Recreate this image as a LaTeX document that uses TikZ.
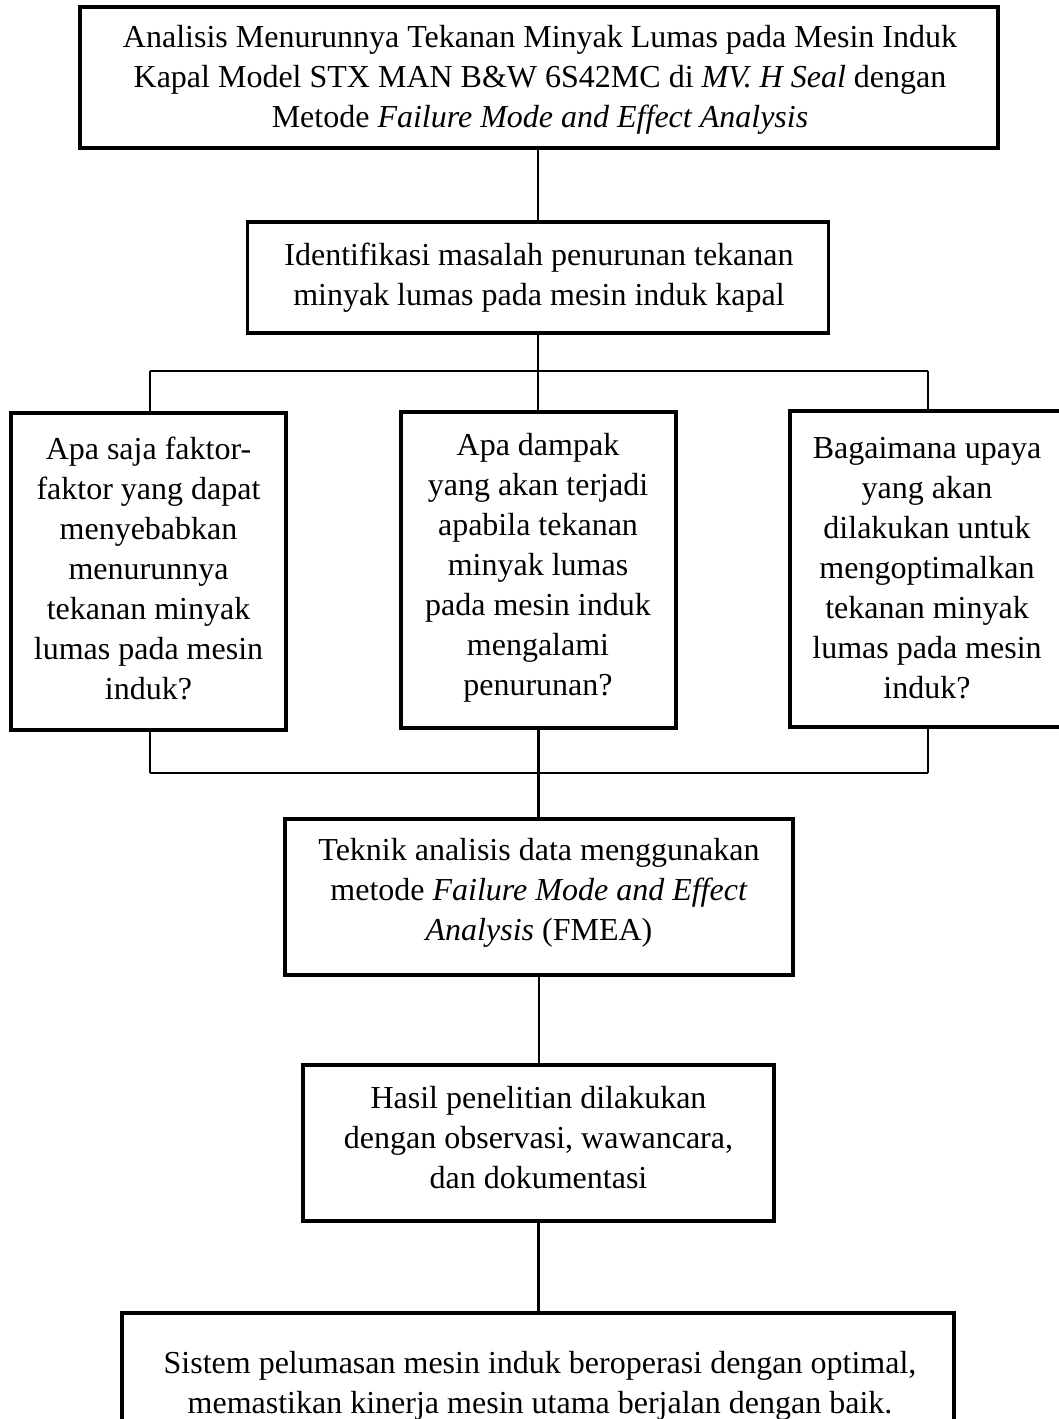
\documentclass[tikz,border=0pt]{standalone}
\usepackage{fontspec}
\setmainfont{Liberation Serif}
\begin{document}
\begin{tikzpicture}[x=1pt,y=-1pt,
  box/.style={draw,line width=3.3pt,inner sep=0pt},
  txt/.style={align=center,inner sep=0pt,font=\fontsize{32}{40}\selectfont},
  conn/.style={line width=2.3pt}]
\useasboundingbox (0,0) rectangle (1059,1419);
\clip (0,0) rectangle (1059,1419);
% boxes
\node[box,minimum width=918pt,minimum height=141pt] (b1) at (539,77.5) {};
\node[box,minimum width=581pt,minimum height=111pt] (b2) at (538,277.5) {};
\node[box,minimum width=275pt,minimum height=317pt] (bL) at (148.5,571.5) {};
\node[box,minimum width=275pt,minimum height=316pt] (bM) at (538.5,570) {};
\node[box,minimum width=276pt,minimum height=316pt] (bR) at (928,569) {};
\node[box,minimum width=508pt,minimum height=156pt] (b4) at (539,897) {};
\node[box,minimum width=471pt,minimum height=156pt] (b5) at (538.5,1143) {};
\node[box,minimum width=832pt,minimum height=146pt] (b6) at (538,1386) {};
% texts
\node[txt] (t1) at (540,80) {Analisis Menurunnya Tekanan Minyak Lumas pada Mesin Induk\\
Kapal Model STX MAN B\&W 6S42MC di \textit{MV. H Seal} dengan\\
Metode \textit{Failure Mode and Effect Analysis}};
\node[txt] (t2) at (539,278) {Identifikasi masalah penurunan tekanan\\minyak lumas pada mesin induk kapal};
\node[txt] (tL) at (148.5,568) {Apa saja faktor-\\faktor yang dapat\\menyebabkan\\menurunnya\\tekanan minyak\\lumas pada mesin\\induk?};
\node[txt] (tM) at (538,568) {Apa dampak\\yang akan terjadi\\apabila tekanan\\minyak lumas\\pada mesin induk\\mengalami\\penurunan?};
\node[txt] (tR) at (927,568) {Bagaimana upaya\\yang akan\\dilakukan untuk\\mengoptimalkan\\tekanan minyak\\lumas pada mesin\\induk?};
\node[txt] (t4) at (539,893) {Teknik analisis data menggunakan\\metode \textit{Failure Mode and Effect}\\\textit{Analysis} (FMEA)};
\node[txt] (t5) at (538.5,1138) {Hasil penelitian dilakukan\\dengan observasi, wawancara,\\dan dokumentasi};
\node[txt] (t6) at (540,1386) {Sistem pelumasan mesin induk beroperasi dengan optimal,\\memastikan kinerja mesin utama berjalan dengan baik.};
% junctions
\coordinate (jt) at (538,371);
\coordinate (jtl) at (150,371);
\coordinate (jtr) at (928,371);
\coordinate (jbl) at (150,773);
\coordinate (jbr) at (928,773);
% connectors
\draw[conn] (b1.south -| b2.north) -- (b2.north);
\draw[conn] (b2.south) -- (jt);
\draw[conn] (jtl) -- (jtr);
\draw[conn] (jtl) -- (jtl |- bL.north);
\draw[conn] (jt) -- (jt |- bM.north);
\draw[conn] (jtr) -- (jtr |- bR.north);
\draw[conn] (jbl |- bL.south) -- (jbl);
\draw[conn] (jbr |- bR.south) -- (jbr);
\draw[conn] (jbl) -- (jbr);
\draw[conn] (bM.south) -- (b4.north -| bM.south);
\draw[conn] (b4.south) -- (b5.north -| b4.south);
\draw[conn] (b5.south) -- (b6.north -| b5.south);
\end{tikzpicture}
\end{document}
